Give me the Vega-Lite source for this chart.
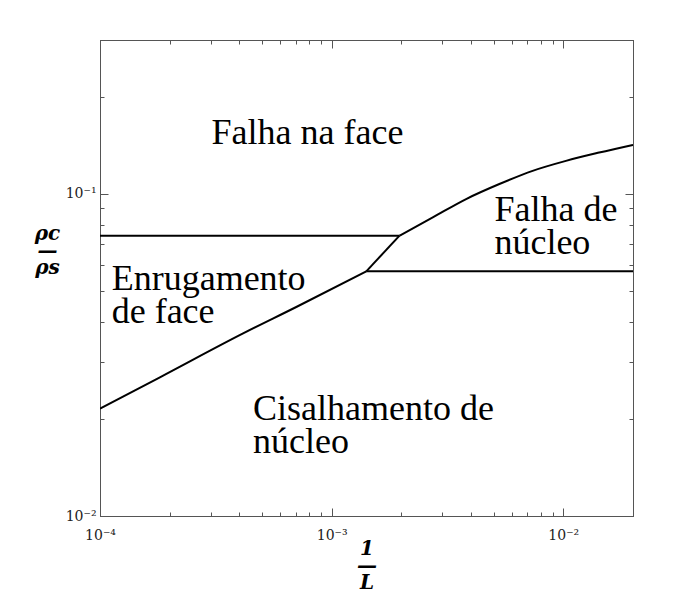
{
  "$schema": "https://vega.github.io/schema/vega-lite/v6.json",
  "width": 533,
  "height": 476,
  "autosize": "none",
  "padding": {"left": 100, "top": 40, "right": 43, "bottom": 92},
  "background": "white",
  "config": {
    "view": {"stroke": "#555555", "strokeWidth": 1},
    "font": "Liberation Serif",
    "axis": {
      "domainColor": "#555555",
      "tickColor": "#555555",
      "grid": false,
      "labelFont": "DejaVu Serif",
      "labelFontSize": 14,
      "labelColor": "#222222",
      "titleFont": "DejaVu Serif",
      "titleFontSize": 20,
      "titleFontWeight": "bold",
      "titleFontStyle": "italic",
      "titleColor": "black",
      "titleLineHeight": 17
    }
  },
  "datasets": {
    "boundaries": [
      {"boundary": "face_failure_upper", "step": 0, "inv_L": 0.0001, "rho_ratio": 0.07413},
      {"boundary": "face_failure_upper", "step": 1, "inv_L": 0.001964, "rho_ratio": 0.07413},

      {"boundary": "wrinkling_shear", "step": 0, "inv_L": 0.0001, "rho_ratio": 0.02154},
      {"boundary": "wrinkling_shear", "step": 1, "inv_L": 0.0001814, "rho_ratio": 0.02694},
      {"boundary": "wrinkling_shear", "step": 2, "inv_L": 0.0004147, "rho_ratio": 0.03686},
      {"boundary": "wrinkling_shear", "step": 3, "inv_L": 0.0007037, "rho_ratio": 0.04452},
      {"boundary": "wrinkling_shear", "step": 4, "inv_L": 0.001411, "rho_ratio": 0.05745},

      {"boundary": "core_failure_lower", "step": 0, "inv_L": 0.001411, "rho_ratio": 0.05745},
      {"boundary": "core_failure_lower", "step": 1, "inv_L": 0.02, "rho_ratio": 0.05745},

      {"boundary": "wrinkling_core", "step": 0, "inv_L": 0.001411, "rho_ratio": 0.05745},
      {"boundary": "wrinkling_core", "step": 1, "inv_L": 0.001964, "rho_ratio": 0.07413},

      {"boundary": "face_core", "step": 0, "inv_L": 0.001964, "rho_ratio": 0.07413},
      {"boundary": "face_core", "step": 1, "inv_L": 0.002733, "rho_ratio": 0.08444},
      {"boundary": "face_core", "step": 2, "inv_L": 0.003807, "rho_ratio": 0.0963},
      {"boundary": "face_core", "step": 3, "inv_L": 0.005298, "rho_ratio": 0.1072},
      {"boundary": "face_core", "step": 4, "inv_L": 0.007373, "rho_ratio": 0.1178},
      {"boundary": "face_core", "step": 5, "inv_L": 0.01027, "rho_ratio": 0.1265},
      {"boundary": "face_core", "step": 6, "inv_L": 0.01429, "rho_ratio": 0.1342},
      {"boundary": "face_core", "step": 7, "inv_L": 0.02, "rho_ratio": 0.1418}
    ],
    "regions": [
      {"label": "Falha na face", "inv_L": 0.000303, "rho_ratio": 0.1428},
      {"label": "Falha de", "inv_L": 0.005043, "rho_ratio": 0.08248},
      {"label": "núcleo", "inv_L": 0.005043, "rho_ratio": 0.06506},
      {"label": "Enrugamento", "inv_L": 0.0001123, "rho_ratio": 0.05031},
      {"label": "de face", "inv_L": 0.0001123, "rho_ratio": 0.03968},
      {"label": "Cisalhamento de", "inv_L": 0.0004578, "rho_ratio": 0.01982},
      {"label": "núcleo", "inv_L": 0.0004578, "rho_ratio": 0.01563}
    ]
  },
  "resolve": {"axis": {"x": "independent", "y": "independent"}},
  "layer": [
    {
      "data": {"name": "boundaries"},
      "mark": {"type": "line", "color": "black", "strokeWidth": 2, "interpolate": "monotone", "clip": true},
      "encoding": {
        "x": {
          "field": "inv_L",
          "type": "quantitative",
          "scale": {"type": "log", "domain": [0.0001, 0.02], "nice": false},
          "axis": {
            "orient": "bottom",
            "values": [0.0001, 0.0002, 0.0003, 0.0004, 0.0005, 0.0006, 0.0007, 0.0008, 0.0009, 0.001, 0.002, 0.003, 0.004, 0.005, 0.006, 0.007, 0.008, 0.009, 0.01, 0.02],
            "labelExpr": "abs(log(datum.value)/LN10 + 4) < 0.001 ? '10⁻⁴' : abs(log(datum.value)/LN10 + 3) < 0.001 ? '10⁻³' : abs(log(datum.value)/LN10 + 2) < 0.001 ? '10⁻²' : ''",
            "tickSize": {"condition": {"test": "abs(log(datum.value)/LN10 - round(log(datum.value)/LN10)) < 0.001", "value": -8}, "value": -4},
            "labelPadding": 20,
            "labelFlush": false,
            "labelOverlap": false,
            "title": ["1", "—", "L"],
            "titleY": 22,
            "titleBaseline": "top"
          }
        },
        "y": {
          "field": "rho_ratio",
          "type": "quantitative",
          "scale": {"type": "log", "domain": [0.01, 0.3], "nice": false},
          "axis": {
            "orient": "left",
            "values": [0.01, 0.02, 0.03, 0.04, 0.05, 0.06, 0.07, 0.08, 0.09, 0.1, 0.2, 0.3],
            "labelExpr": "abs(log(datum.value)/LN10 + 2) < 0.001 ? '10⁻²' : abs(log(datum.value)/LN10 + 1) < 0.001 ? '10⁻¹' : ''",
            "tickSize": {"condition": {"test": "abs(log(datum.value)/LN10 - round(log(datum.value)/LN10)) < 0.001", "value": -8}, "value": -4},
            "labelPadding": 12,
            "labelFlush": false,
            "labelOverlap": false,
            "title": ["ρc", "—", "ρs"],
            "titleAngle": 0,
            "titleAlign": "center",
            "titleBaseline": "middle",
            "titleX": -53,
            "titleY": 193
          }
        },
        "detail": {"field": "boundary"},
        "order": {"field": "step", "type": "quantitative"}
      }
    },
    {
      "data": {"name": "regions"},
      "mark": {"type": "text", "align": "left", "baseline": "alphabetic", "fontSize": 36, "font": "Liberation Serif", "color": "black"},
      "encoding": {
        "x": {
          "field": "inv_L",
          "type": "quantitative",
          "scale": {"type": "log", "domain": [0.0001, 0.02], "nice": false},
          "axis": {
            "orient": "top",
            "values": [0.0001, 0.0002, 0.0003, 0.0004, 0.0005, 0.0006, 0.0007, 0.0008, 0.0009, 0.001, 0.002, 0.003, 0.004, 0.005, 0.006, 0.007, 0.008, 0.009, 0.01, 0.02],
            "labels": false,
            "tickSize": {"condition": {"test": "abs(log(datum.value)/LN10 - round(log(datum.value)/LN10)) < 0.001", "value": -8}, "value": -4},
            "title": null
          }
        },
        "y": {
          "field": "rho_ratio",
          "type": "quantitative",
          "scale": {"type": "log", "domain": [0.01, 0.3], "nice": false},
          "axis": {
            "orient": "right",
            "values": [0.01, 0.02, 0.03, 0.04, 0.05, 0.06, 0.07, 0.08, 0.09, 0.1, 0.2, 0.3],
            "labels": false,
            "tickSize": {"condition": {"test": "abs(log(datum.value)/LN10 - round(log(datum.value)/LN10)) < 0.001", "value": -8}, "value": -4},
            "title": null
          }
        },
        "text": {"field": "label"}
      }
    }
  ]
}
